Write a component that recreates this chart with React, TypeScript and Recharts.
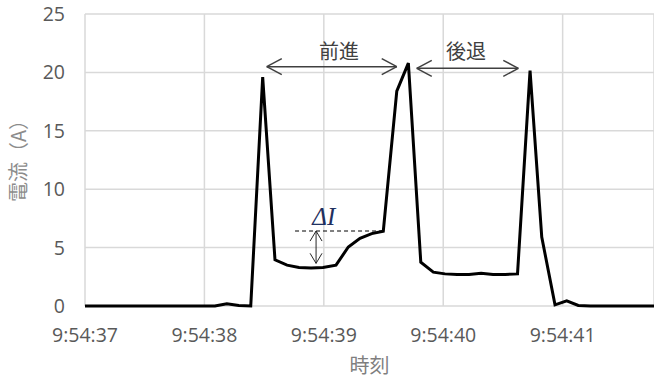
import React from 'react';
import { LineChart, Line, XAxis, YAxis, CartesianGrid, ReferenceLine, ReferenceDot } from 'recharts';

// seconds after 9:54:37
const timeSec = [
  0, 0.088, 0.188, 0.288, 0.388, 0.488, 0.588, 0.688, 0.788, 0.888, 0.988,
  1.088, 1.188, 1.288, 1.388,
  1.488, 1.591, 1.692, 1.792, 1.893, 1.993, 2.102, 2.205, 2.303, 2.401, 2.498,
  2.611, 2.708, 2.812, 2.917, 3.015, 3.116, 3.216, 3.317, 3.417, 3.518, 3.622,
  3.727, 3.825, 3.936, 4.034, 4.131,
  4.232, 4.332, 4.432, 4.532, 4.632, 4.732, 4.765,
];
const currentA = [
  0, 0, 0, 0, 0, 0, 0, 0, 0, 0, 0,
  0, 0.2, 0.05, 0,
  19.6, 3.95, 3.5, 3.3, 3.25, 3.3, 3.5, 5.05, 5.8, 6.2, 6.4,
  18.4, 20.8, 3.75, 2.9, 2.75, 2.7, 2.7, 2.8, 2.7, 2.7, 2.75,
  20.15, 5.9, 0.1, 0.45, 0.05,
  0, 0, 0, 0, 0, 0, 0,
];
const xTicks = [0, 1, 2, 3, 4];
const xTickLabels = ['9:54:37', '9:54:38', '9:54:39', '9:54:40', '9:54:41'];
const yTicks = [0, 5, 10, 15, 20, 25];

// annotation arrows (data units)
const hArrowFrom = [1.522, 2.778];
const hArrowTo = [2.611, 3.629];
const hArrowY = [20.49, 20.35];
const hArrowText = ['前進', '後退'];
const hArrowTextX = [2.127, 3.191];
const hArrowTextY = [21.9, 21.9];

const deltaLineFrom = 1.759;
const deltaLineTo = 2.498;
const deltaTop = 6.42;
const deltaBottom = 3.65;
const deltaArrowX = 1.935;
const deltaTextX = 2.0;
const deltaTextY = 7.7;

const data = timeSec.map((t, i) => ({ t, a: currentA[i] }));

const HEAD_DX = 0.126;
const HEAD_DY = 0.685;
const VHEAD_DX = 0.05;
const VHEAD_DY = 0.86;

const tickStyle = { fill: '#595959', fontSize: 19.5, fontFamily: '"Open Sans", "Liberation Sans", sans-serif' };
const cjk = '"Noto Sans CJK JP", "Noto Sans", sans-serif';

function seg(x1: number, y1: number, x2: number, y2: number, key: string, stroke: string, w: number, dash?: string) {
  return (
    <ReferenceLine
      key={key}
      segment={[{ x: x1, y: y1 }, { x: x2, y: y2 }]}
      stroke={stroke}
      strokeWidth={w}
      strokeDasharray={dash}
      ifOverflow="visible"
    />
  );
}

export default function App() {
  const annotations: any[] = [];
  hArrowFrom.forEach((f, i) => {
    const to = hArrowTo[i];
    const y = hArrowY[i];
    const c = '#404040';
    annotations.push(seg(f, y, to, y, `h${i}`, c, 1.5));
    annotations.push(seg(f, y, f + HEAD_DX, y + HEAD_DY, `hl1${i}`, c, 1.5));
    annotations.push(seg(f, y, f + HEAD_DX, y - HEAD_DY, `hl2${i}`, c, 1.5));
    annotations.push(seg(to, y, to - HEAD_DX, y + HEAD_DY, `hr1${i}`, c, 1.5));
    annotations.push(seg(to, y, to - HEAD_DX, y - HEAD_DY, `hr2${i}`, c, 1.5));
  });
  annotations.push(seg(deltaLineFrom, deltaTop, deltaLineTo, deltaTop, 'dash', '#000', 1, '4 3'));
  annotations.push(seg(deltaArrowX, deltaTop, deltaArrowX, deltaBottom, 'dv', '#262626', 1));
  annotations.push(seg(deltaArrowX, deltaTop, deltaArrowX - VHEAD_DX, deltaTop - VHEAD_DY, 'dv1', '#262626', 1));
  annotations.push(seg(deltaArrowX, deltaTop, deltaArrowX + VHEAD_DX, deltaTop - VHEAD_DY, 'dv2', '#262626', 1));
  annotations.push(seg(deltaArrowX, deltaBottom, deltaArrowX - VHEAD_DX, deltaBottom + VHEAD_DY, 'dv3', '#262626', 1));
  annotations.push(seg(deltaArrowX, deltaBottom, deltaArrowX + VHEAD_DX, deltaBottom + VHEAD_DY, 'dv4', '#262626', 1));

  const yLabel = (props: any) => {
    const vb = props.viewBox || { x: 0, y: 14, width: 85, height: 292 };
    const cx = vb.x + 17;
    const cy = vb.y + vb.height / 2 - 4;
    return (
      <text
        x={cx}
        y={cy}
        transform={`rotate(-90, ${cx}, ${cy})`}
        textAnchor="middle"
        dominantBaseline="central"
        fill="#8c8c8c"
        fontSize={20}
        fontFamily={cjk}
      >
        電流（A）
      </text>
    );
  };

  return (
    <div style={{ position: 'absolute', left: 0, top: 0, width: 654, height: 380, overflow: 'hidden', background: '#fff' }}>
      <LineChart width={654} height={380} data={data} margin={{ top: 14, right: 0, bottom: 0, left: 0 }}>
        <CartesianGrid stroke="#d9d9d9" strokeWidth={1.5} />
        <XAxis
          dataKey="t"
          type="number"
          domain={[0, 4.765]}
          ticks={xTicks}
          tickFormatter={(v: number) => xTickLabels[xTicks.indexOf(v)] ?? ''}
          height={74}
          tickLine={false}
          tickSize={6}
          tickMargin={16}
          axisLine={false}
          tick={tickStyle}
          label={{ value: '時刻', position: 'insideBottom', offset: 7, fill: '#7f7f7f', fontSize: 20, fontFamily: cjk }}
        />
        <YAxis
          type="number"
          domain={[0, 25]}
          ticks={yTicks}
          width={85}
          tickLine={false}
          tickSize={6}
          tickMargin={14}
          axisLine={false}
          tick={tickStyle}
          label={{ content: yLabel }}
        />
        {annotations}
        {hArrowText.map((txt, i) => (
          <ReferenceDot
            key={`t${i}`}
            x={hArrowTextX[i]}
            y={hArrowTextY[i]}
            r={0}
            ifOverflow="visible"
            shape={(p: any) => (
              <text x={p.cx} y={p.cy} textAnchor="middle" dominantBaseline="central" fill="#404040" fontSize={20} fontFamily={cjk}>
                {txt}
              </text>
            )}
          />
        ))}
        <ReferenceDot
          x={deltaTextX}
          y={deltaTextY}
          r={0}
          ifOverflow="visible"
          shape={(p: any) => (
            <text x={p.cx} y={p.cy} textAnchor="middle" dominantBaseline="central" fill="#1f3060" fontSize={25} fontStyle="italic" fontFamily='"Liberation Serif", "DejaVu Serif", serif'>
              ΔI
            </text>
          )}
        />
        <Line
          type="linear"
          dataKey="a"
          stroke="#000"
          strokeWidth={3}
          dot={false}
          isAnimationActive={false}
        />
      </LineChart>
    </div>
  );
}
